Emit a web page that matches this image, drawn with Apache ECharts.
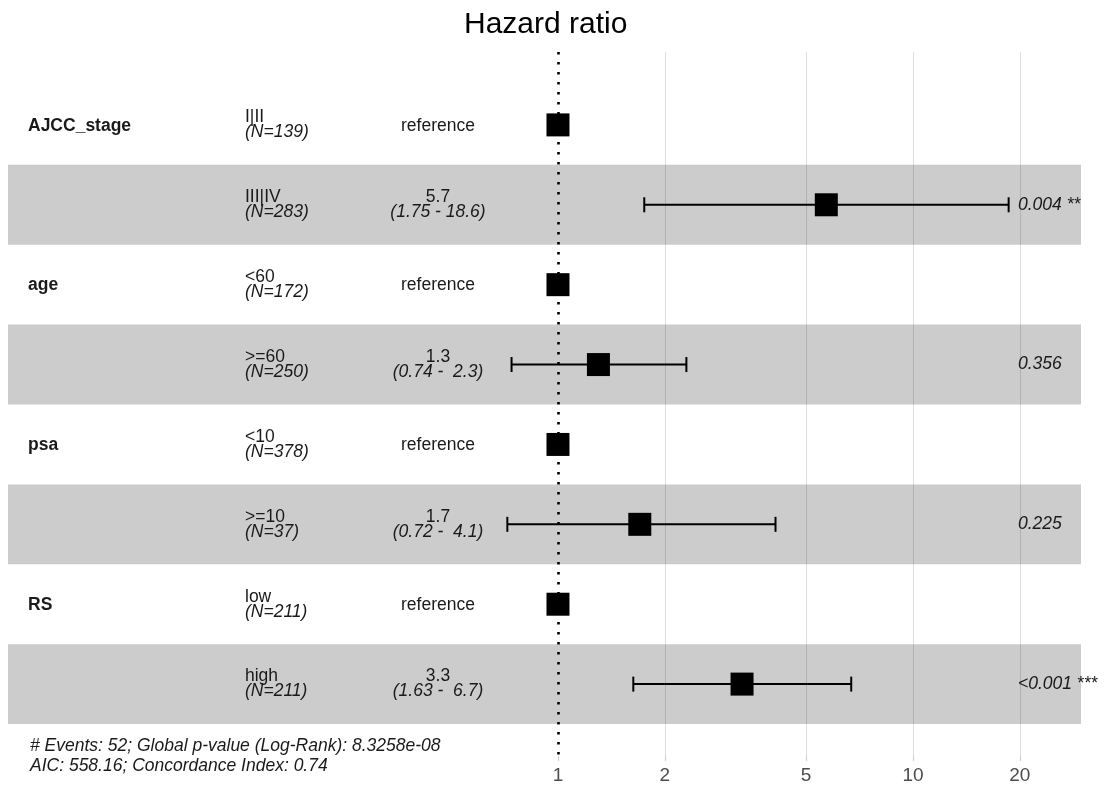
<!DOCTYPE html>
<html><head><meta charset="utf-8">
<script src="https://cdn.jsdelivr.net/npm/echarts@6/dist/echarts.min.js"></script>
<style>html,body{margin:0;padding:0;background:#fff}#main{width:1108px;height:785px}</style>
</head><body><div id="main"></div>
<script>
// ---- data ----
const variables = ['AJCC_stage', '', 'age', '', 'psa', '', 'RS', ''];
const levels = ['I|II', 'III|IV', '<60', '>=60', '<10', '>=10', 'low', 'high'];
const counts = [139, 283, 172, 250, 378, 37, 211, 211];
const hazardRatios = [1, 5.7, 1, 1.3, 1, 1.7, 1, 3.3];
const ciLower = [null, 1.75, null, 0.74, null, 0.72, null, 1.63];
const ciUpper = [null, 18.6, null, 2.3, null, 4.1, null, 6.7];
const hrLabels = ['reference', '5.7', 'reference', '1.3', 'reference', '1.7', 'reference', '3.3'];
const ciLabels = ['', '(1.75 - 18.6)', '', '(0.74 -  2.3)', '', '(0.72 -  4.1)', '', '(1.63 -  6.7)'];
const pLabels = ['', '0.004 **', '', '0.356', '', '0.225', '', '<0.001 ***'];
const xTicks = [1, 2, 5, 10, 20];
const gridTicks = [2, 5, 10, 20];
const titleText = 'Hazard ratio';
const footnotes = ['# Events: 52; Global p-value (Log-Rank): 8.3258e-08', 'AIC: 558.16; Concordance Index: 0.74'];

// ---- layout (pixels) ----
const FONT = '"Liberation Sans", Arial, Helvetica, sans-serif';
const FS = 17.5;
const colX = { variable: 28, level: 245, hr: 438, p: 1018 };
const lineOffset = 7.5;

const rows = levels.map((_, i) => i + 1);

const chart = echarts.init(document.getElementById('main'), null, { renderer: 'canvas' });

const bandData = rows.filter(r => r % 2 === 0).map(r => [1, r]);
const ciData = rows.filter((r, i) => ciLower[i] != null).map(r => [ciLower[r - 1], ciUpper[r - 1], r]);
const pointData = rows.map((r, i) => [hazardRatios[i], r]);
const tableData = rows.map(r => [1, r, r - 1]);

const option = {
  animation: false,
  backgroundColor: '#ffffff',
  title: {
    text: titleText, left: 459, top: 5,
    textStyle: { fontFamily: FONT, fontSize: 30, fontWeight: 'normal', color: '#000' }
  },
  grid: { left: 8, right: 27, top: 52, bottom: 28, containLabel: false },
  xAxis: {
    type: 'log', logBase: 10, min: 0.02823, max: 29.74,
    axisLine: { show: false },
    splitLine: { show: false },
    minorSplitLine: { show: false },
    axisTick: { show: true, customValues: xTicks, length: 5, lineStyle: { color: 'rgba(0,0,0,0.2)' } },
    axisLabel: { customValues: xTicks, formatter: v => String(Math.round(v)), fontFamily: FONT, fontSize: 19, color: '#4d4d4d', margin: 10 }
  },
  yAxis: {
    type: 'value', inverse: true, min: 0.0875, max: 8.9, show: false
  },
  graphic: footnotes.map((t, i) => ({
    type: 'text', left: 30, top: 737 + i * 20,
    style: { text: t, fontFamily: FONT, fontSize: FS, fontStyle: 'italic', fill: '#1a1a1a' }
  })),
  series: [
    {
      type: 'custom', name: 'bands', z: 1, silent: true, clip: false,
      encode: { x: 0, y: 1 },
      data: bandData,
      renderItem(params, api) {
        const cs = params.coordSys;
        const r = api.value(1);
        const yTop = api.coord([1, r - 0.5])[1];
        const yBot = api.coord([1, r + 0.5])[1];
        return { type: 'rect', shape: { x: cs.x, y: yTop, width: cs.width, height: yBot - yTop }, style: { fill: '#cccccc' } };
      }
    },
    {
      type: 'line', name: 'grid', z: 2, data: [], silent: true,
      markLine: {
        silent: true, symbol: 'none', animation: false,
        label: { show: false },
        data: gridTicks.map(v => ({ xAxis: v, lineStyle: { color: 'rgba(0,0,0,0.13)', width: 1, type: 'solid' } }))
          .concat([{ xAxis: 1, lineStyle: { color: '#000', width: 2.6, type: [2.5, 7.5], cap: 'butt' } }])
      }
    },
    {
      type: 'custom', name: 'ci', z: 4, silent: true, clip: false,
      encode: { x: [0, 1], y: 2 },
      data: ciData,
      renderItem(params, api) {
        const lo = api.coord([api.value(0), api.value(2)]);
        const hi = api.coord([api.value(1), api.value(2)]);
        const cap = 7.5;
        const st = { stroke: '#000', lineWidth: 2 };
        return {
          type: 'group', children: [
            { type: 'line', shape: { x1: lo[0], y1: lo[1], x2: hi[0], y2: hi[1] }, style: st },
            { type: 'line', shape: { x1: lo[0], y1: lo[1] - cap, x2: lo[0], y2: lo[1] + cap }, style: st },
            { type: 'line', shape: { x1: hi[0], y1: hi[1] - cap, x2: hi[0], y2: hi[1] + cap }, style: st }
          ]
        };
      }
    },
    {
      type: 'scatter', name: 'HR', z: 5, silent: true,
      symbol: 'rect', symbolSize: 23,
      itemStyle: { color: '#000', opacity: 1 },
      data: pointData
    },
    {
      type: 'custom', name: 'table', z: 6, silent: true, clip: false,
      encode: { x: 0, y: 1 },
      data: tableData,
      renderItem(params, api) {
        const i = api.value(2);
        const y = api.coord([1, api.value(1)])[1];
        const base = { fontFamily: FONT, fontSize: FS, fill: '#1a1a1a', verticalAlign: 'middle' };
        const kids = [];
        if (variables[i]) kids.push({ type: 'text', x: colX.variable, y: y + 1, style: Object.assign({}, base, { text: variables[i], fontWeight: 'bold', align: 'left' }) });
        kids.push({ type: 'text', x: colX.level, y: y - lineOffset, style: Object.assign({}, base, { text: levels[i], align: 'left' }) });
        kids.push({ type: 'text', x: colX.level, y: y + lineOffset, style: Object.assign({}, base, { text: '(N=' + counts[i] + ')', fontStyle: 'italic', align: 'left' }) });
        if (ciLabels[i]) {
          kids.push({ type: 'text', x: colX.hr, y: y - lineOffset, style: Object.assign({}, base, { text: hrLabels[i], align: 'center' }) });
          kids.push({ type: 'text', x: colX.hr, y: y + lineOffset, style: Object.assign({}, base, { text: ciLabels[i], fontStyle: 'italic', align: 'center' }) });
        } else {
          kids.push({ type: 'text', x: colX.hr, y: y + 1, style: Object.assign({}, base, { text: hrLabels[i], align: 'center' }) });
        }
        if (pLabels[i]) kids.push({ type: 'text', x: colX.p, y: y, style: Object.assign({}, base, { text: pLabels[i], fontStyle: 'italic', align: 'left' }) });
        return { type: 'group', children: kids };
      }
    }
  ]
};
chart.setOption(option);
</script>
</body></html>
